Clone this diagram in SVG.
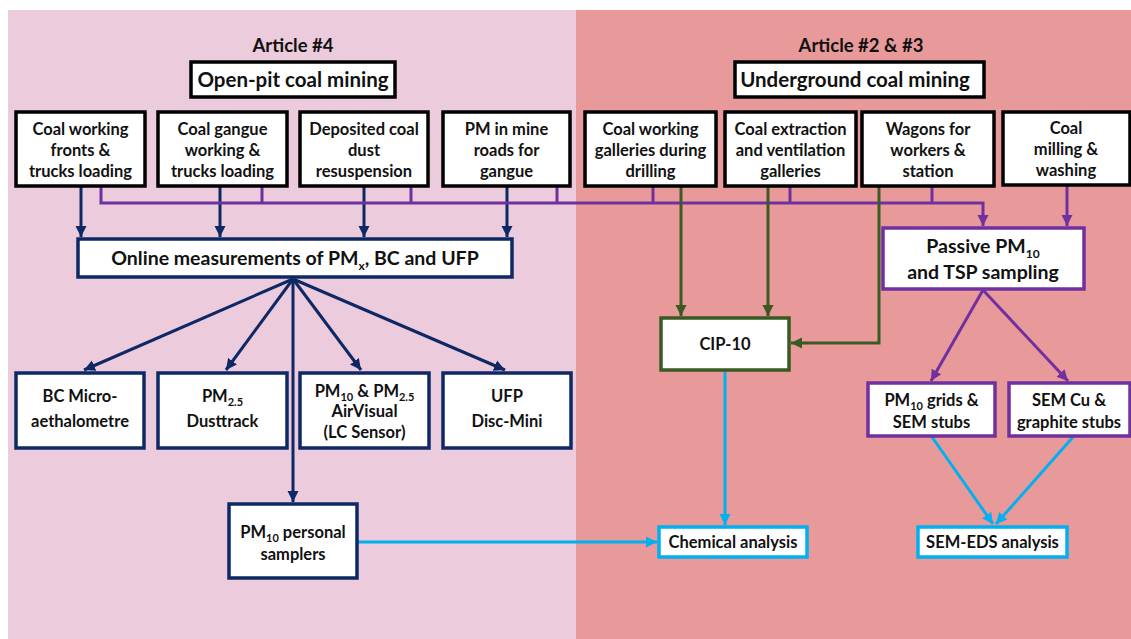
<svg xmlns="http://www.w3.org/2000/svg" width="1131" height="639" viewBox="0 0 1131 639">
<defs>
<style>
text{font-family:Lato,"Open Sans","Liberation Sans",sans-serif;font-weight:bold;fill:#111;text-anchor:middle}
.t{font-size:16.5px}
.big{font-size:19.5px}
.hd{font-size:18.5px}
.box{fill:#fff;stroke-width:3.5}
.k{stroke:#000}
.nv{stroke:#0E2865}
.gr{stroke:#3A5A22}
.pu{stroke:#7030A0}
.cy{stroke:#00B0F0}
.ln{fill:none;stroke-width:3}
</style>
<marker id="aN" markerUnits="userSpaceOnUse" markerWidth="12" markerHeight="12" viewBox="0 0 12 12" refX="11" refY="6" orient="auto"><path d="M0,0.5 L11,6 L0,11.5 z" fill="#0E2865"/></marker>
<marker id="aG" markerUnits="userSpaceOnUse" markerWidth="12" markerHeight="12" viewBox="0 0 12 12" refX="11" refY="6" orient="auto"><path d="M0,0.5 L11,6 L0,11.5 z" fill="#3A5A22"/></marker>
<marker id="aP" markerUnits="userSpaceOnUse" markerWidth="12" markerHeight="12" viewBox="0 0 12 12" refX="11" refY="6" orient="auto"><path d="M0,0.5 L11,6 L0,11.5 z" fill="#7030A0"/></marker>
<marker id="aC" markerUnits="userSpaceOnUse" markerWidth="12" markerHeight="12" viewBox="0 0 12 12" refX="11" refY="6" orient="auto"><path d="M0,0.5 L11,6 L0,11.5 z" fill="#00B0F0"/></marker>
</defs>
<rect x="0" y="0" width="1131" height="639" fill="#fff"/>
<rect x="8" y="10" width="568" height="629" fill="#ECCBDC"/>
<rect x="576" y="10" width="555" height="629" fill="#E89A9A"/>

<g id="headers">
<text class="hd" x="293" y="52">Article #4</text>
<text class="hd" x="861" y="52">Article #2 &amp; #3</text>
</g>

<g id="connectors">
<g class="ln nv">
<line x1="81" y1="186" x2="81" y2="237" marker-end="url(#aN)"/>
<line x1="220" y1="186" x2="220" y2="237" marker-end="url(#aN)"/>
<line x1="364" y1="186" x2="364" y2="237" marker-end="url(#aN)"/>
<line x1="507" y1="186" x2="507" y2="237" marker-end="url(#aN)"/>
<line x1="293" y1="279" x2="84" y2="370" marker-end="url(#aN)"/>
<line x1="293" y1="279" x2="226" y2="370" marker-end="url(#aN)"/>
<line x1="293" y1="279" x2="361" y2="370" marker-end="url(#aN)"/>
<line x1="293" y1="279" x2="505" y2="370" marker-end="url(#aN)"/>
<line x1="293" y1="279" x2="293" y2="502" marker-end="url(#aN)"/>
</g>
<g class="ln pu">
<path d="M101,186 V203 H983 V226" marker-end="url(#aP)"/>
<path d="M262,186 V203 M411,186 V203 M557,186 V203 M653,186 V203 M790,186 V203 M932,186 V203"/>
<line x1="1067" y1="185" x2="1067" y2="226" marker-end="url(#aP)"/>
<line x1="983" y1="290" x2="931" y2="381" marker-end="url(#aP)"/>
<line x1="983" y1="290" x2="1068" y2="381" marker-end="url(#aP)"/>
</g>
<g class="ln gr">
<line x1="681" y1="186" x2="681" y2="316" marker-end="url(#aG)"/>
<line x1="768" y1="186" x2="768" y2="316" marker-end="url(#aG)"/>
<path d="M879,186 V343 H791" marker-end="url(#aG)"/>
</g>
<g class="ln cy">
<line x1="725" y1="371" x2="725" y2="525" marker-end="url(#aC)"/>
<line x1="357" y1="542" x2="657" y2="542" marker-end="url(#aC)"/>
<line x1="932" y1="437" x2="993" y2="524" marker-end="url(#aC)"/>
<line x1="1073" y1="437" x2="996" y2="524" marker-end="url(#aC)"/>
</g>
</g>

<g id="openpit"><rect class="box k" x="191" y="62" width="204" height="35"/><text style="font-size:20.5px" x="293" y="87">Open-pit coal mining</text></g>
<g id="underground"><rect class="box k" x="735" y="62" width="249" height="35"/><text style="font-size:20.5px" x="855" y="87">Underground coal mining</text></g>

<g id="src1"><rect class="box k" x="16" y="112" width="129" height="74"/><text class="t" x="80.5" y="135">Coal working</text><text class="t" x="80.5" y="156">fronts &amp;</text><text class="t" x="80.5" y="177">trucks loading</text></g>
<g id="src2"><rect class="box k" x="158" y="112" width="129" height="74"/><text class="t" x="222.5" y="135">Coal gangue</text><text class="t" x="222.5" y="156">working &amp;</text><text class="t" x="222.5" y="177">trucks loading</text></g>
<g id="src3"><rect class="box k" x="300" y="112" width="128" height="74"/><text class="t" x="364" y="135">Deposited coal</text><text class="t" x="364" y="156">dust</text><text class="t" x="364" y="177">resuspension</text></g>
<g id="src4"><rect class="box k" x="443" y="112" width="127" height="74"/><text class="t" x="506.5" y="135">PM in mine</text><text class="t" x="506.5" y="156">roads for</text><text class="t" x="506.5" y="177">gangue</text></g>
<g id="src5"><rect class="box k" x="585" y="112" width="131" height="74"/><text class="t" x="650.5" y="135">Coal working</text><text class="t" x="650.5" y="156">galleries during</text><text class="t" x="650.5" y="177">drilling</text></g>
<g id="src6"><rect class="box k" x="725" y="112" width="131" height="74"/><text class="t" x="790.5" y="135">Coal extraction</text><text class="t" x="790.5" y="156">and ventilation</text><text class="t" x="790.5" y="177">galleries</text></g>
<g id="src7"><rect class="box k" x="862" y="112" width="132" height="74"/><text class="t" x="928" y="135">Wagons for</text><text class="t" x="928" y="156">workers &amp;</text><text class="t" x="928" y="177">station</text></g>
<g id="src8"><rect class="box k" x="1003" y="112" width="127" height="73"/><text class="t" x="1066" y="134">Coal</text><text class="t" x="1066" y="155">milling &amp;</text><text class="t" x="1066" y="176">washing</text></g>

<g id="online"><rect class="box nv" x="78" y="239" width="434" height="38"/><text class="big" x="295" y="265">Online measurements of PM<tspan style="font-size:12px" dy="5">x</tspan><tspan dy="-5">, BC and UFP</tspan></text></g>

<g id="bc"><rect class="box nv" x="16" y="373" width="128" height="75"/><text class="t" x="80" y="402">BC Micro-</text><text class="t" x="80" y="427">aethalometre</text></g>
<g id="dusttrack"><rect class="box nv" x="158" y="373" width="129" height="75"/><text class="t" x="222.5" y="402">PM<tspan style="font-size:11px" dy="4">2.5</tspan></text><text class="t" x="222.5" y="427">Dusttrack</text></g>
<g id="airvisual"><rect class="box nv" x="300" y="373" width="129" height="75"/><text class="t" x="364.5" y="397">PM<tspan style="font-size:11px" dy="4">10</tspan><tspan dy="-4"> &amp; PM</tspan><tspan style="font-size:11px" dy="4">2.5</tspan></text><text class="t" x="364.5" y="417">AirVisual</text><text class="t" x="364.5" y="438">(LC Sensor)</text></g>
<g id="ufp"><rect class="box nv" x="443" y="373" width="128" height="75"/><text class="t" x="507" y="402">UFP</text><text class="t" x="507" y="427">Disc-Mini</text></g>

<g id="personal"><rect class="box nv" x="229" y="504" width="128" height="74"/><text class="t" x="293" y="538">PM<tspan style="font-size:11px" dy="4">10</tspan><tspan dy="-4"> personal</tspan></text><text class="t" x="293" y="560">samplers</text></g>

<g id="cip10"><rect class="box gr" x="661" y="318" width="128" height="52"/><text class="t" x="725" y="350">CIP-10</text></g>

<g id="passive"><rect class="box pu" x="883" y="228" width="201" height="61"/><text class="big" x="983" y="253">Passive PM<tspan style="font-size:12px" dy="5">10</tspan></text><text class="big" x="983" y="279">and TSP sampling</text></g>
<g id="grids"><rect class="box pu" x="868" y="383" width="127" height="53"/><text class="t" x="931.5" y="406">PM<tspan style="font-size:11px" dy="4">10</tspan><tspan dy="-4"> grids &amp;</tspan></text><text class="t" x="931.5" y="428">SEM stubs</text></g>
<g id="semcu"><rect class="box pu" x="1009" y="383" width="121" height="53"/><text class="t" x="1069" y="406">SEM Cu &amp;</text><text class="t" x="1069" y="428">graphite stubs</text></g>

<g id="chem"><rect class="box cy" x="659" y="527" width="148" height="30"/><text class="t" x="733" y="548">Chemical analysis</text></g>
<g id="semeds"><rect class="box cy" x="918" y="527" width="149" height="30"/><text class="t" x="992.5" y="548">SEM-EDS analysis</text></g>
</svg>
